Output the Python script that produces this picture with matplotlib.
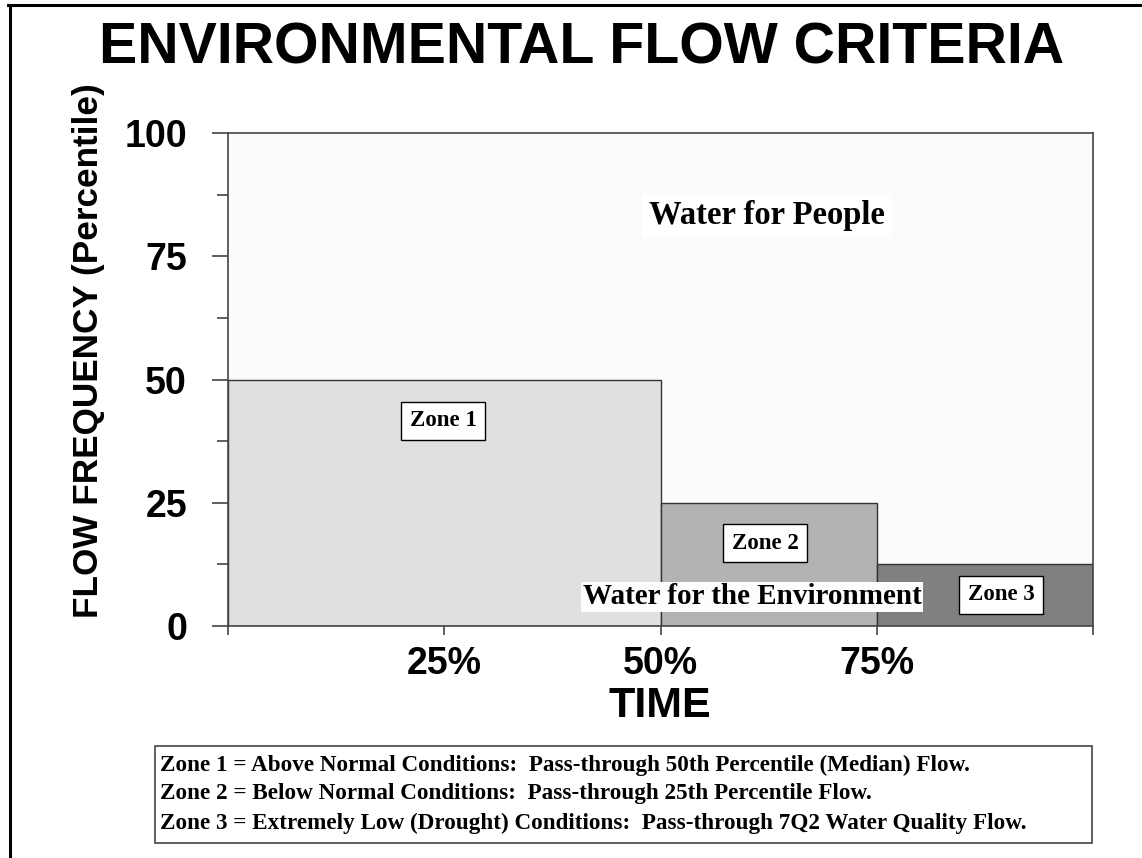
import matplotlib
matplotlib.use("Agg")
import matplotlib.pyplot as plt
from matplotlib.lines import Line2D
from matplotlib.patches import Rectangle

# ---- data ----
zones = ["Zone 1", "Zone 2", "Zone 3"]
time_start = [0, 50, 75]          # % of time where each zone begins
time_width = [50, 25, 25]         # % of time span
flow_pct = [50, 25, 12.5]         # flow frequency percentile (bar height)
zone_colors = ["#e0e0e0", "#b3b3b3", "#808080"]
xticks = [0, 25, 50, 75, 100]
xtick_labels = ["", "25%", "50%", "75%", ""]
yticks = [0, 25, 50, 75, 100]
yticks_minor = [12.5, 37.5, 62.5, 87.5]
legend_lines = [
    "Zone 1 = Above Normal Conditions:  Pass-through 50th Percentile (Median) Flow.",
    "Zone 2 = Below Normal Conditions:  Pass-through 25th Percentile Flow.",
    "Zone 3 = Extremely Low (Drought) Conditions:  Pass-through 7Q2 Water Quality Flow.",
]

SANS = "Liberation Sans"
SERIF = "Liberation Serif"

W, H = 1142, 858
fig = plt.figure(figsize=(W / 100, H / 100), dpi=100)
fig.patch.set_facecolor("white")

def fx(px):
    return px / W

def fy(py):
    return 1 - py / H

# frame lines (top and left)
fig.add_artist(Line2D([fx(8), 1], [fy(4.5), fy(4.5)], color="black", lw=2.2))
fig.add_artist(Line2D([fx(9.5), fx(9.5)], [0, fy(4.5)], color="black", lw=2.2))

ax = fig.add_axes([fx(228), fy(626), fx(1093) - fx(228), fy(133) - fy(626)])
ax.set_facecolor("#fcfbfa")

ax.bar(time_start, flow_pct, width=time_width, align="edge", color=zone_colors,
       edgecolor="#333333", linewidth=1.0, zorder=2)

ax.set_xlim(0, 100)
ax.set_ylim(0, 100)
for s in ["left", "bottom", "top", "right"]:
    ax.spines[s].set_color("#444444")
    ax.spines[s].set_linewidth(1.2)

ax.set_xticks(xticks)
ax.set_xticklabels(xtick_labels, fontfamily=SANS, fontweight="bold", fontsize=27)
ax.set_yticks(yticks)
ax.set_yticklabels([str(v) for v in yticks], fontfamily=SANS, fontweight="bold", fontsize=27)
ax.set_yticks(yticks_minor, minor=True)
ax.tick_params(axis="y", which="major", direction="out", length=11.5, width=1.2,
               color="#444444", pad=18)
ax.tick_params(axis="y", which="minor", direction="out", length=8, width=1.2,
               color="#444444")
ax.tick_params(axis="x", which="major", direction="out", length=6.5, width=1.2,
               color="#444444", pad=8)

# zone labels
zone_label_pos = [(24.9, 41.6), (62.1, 16.8), (89.4, 6.3)]
for name, (x, y) in zip(zones, zone_label_pos):
    ax.text(x, y, name, ha="center", va="center", fontfamily=SERIF,
            fontweight="bold", fontsize=16.5, zorder=5,
            bbox=dict(boxstyle="square,pad=0.38", facecolor="white",
                      edgecolor="black", linewidth=1.0))

ax.text(62.3, 83.2, "Water for People", ha="center", va="center", fontfamily=SERIF,
        fontweight="bold", fontsize=23.5, zorder=5,
        bbox=dict(boxstyle="square,pad=0.2", facecolor="white", edgecolor="none"))
ax.text(60.6, 5.9, "Water for the Environment", ha="center", va="center",
        fontfamily=SERIF, fontweight="bold", fontsize=21, zorder=4,
        bbox=dict(boxstyle="square,pad=0.05", facecolor="#fdfdfc", edgecolor="none"))

# title and axis labels
fig.text(fx(582), fy(48), "ENVIRONMENTAL FLOW CRITERIA", ha="center", va="center",
         fontfamily=SANS, fontweight="bold", fontsize=41.2)
fig.text(fx(89), fy(351), "FLOW FREQUENCY (Percentile)", ha="center", va="center",
         rotation=90, fontfamily=SANS, fontweight="bold", fontsize=25.3)
fig.text(fx(660), fy(706), "TIME", ha="center", va="center",
         fontfamily=SANS, fontweight="bold", fontsize=31)

# legend box
fig.add_artist(Rectangle((fx(155), fy(843)), fx(1092) - fx(155), fy(746) - fy(843),
                         facecolor="white", edgecolor="#444444", linewidth=1.2,
                         transform=fig.transFigure))
for i, line in enumerate(legend_lines):
    fig.text(fx(160), fy(765 + 29 * i), line, ha="left", va="center",
             fontfamily=SERIF, fontweight="bold", fontsize=16.7)

fig.savefig("out.png", dpi=100)
